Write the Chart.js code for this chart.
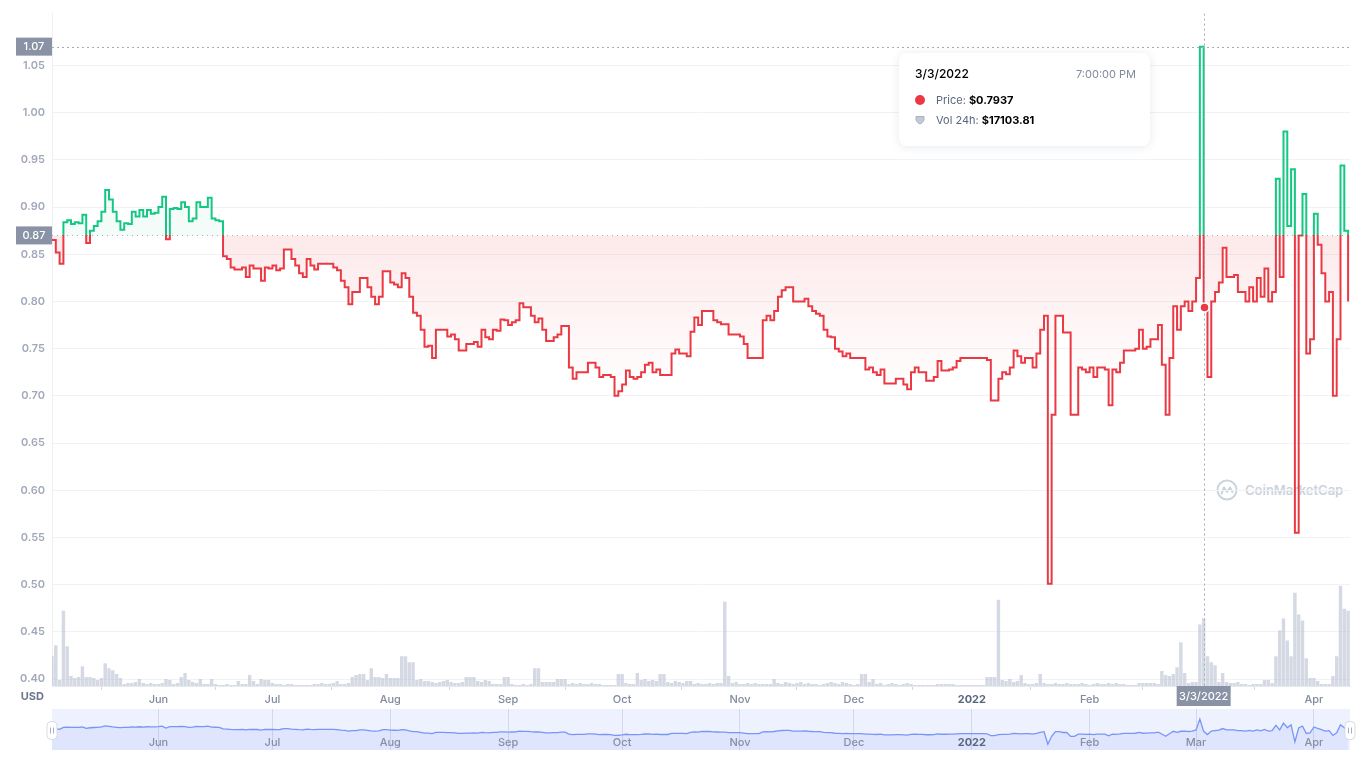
<!DOCTYPE html>
<html>
<head>
<meta charset="utf-8">
<script src="https://cdn.jsdelivr.net/npm/chart.js@4.4.1/dist/chart.umd.min.js"></script>
<style>
  body { margin: 0; background: #fff; font-family: Inter, "Noto Sans", sans-serif; }
  #wrap { position: relative; width: 1365px; height: 760px; overflow: hidden; }
  #priceChart { position: absolute; left: 0; top: 0; }
  #navChart { position: absolute; left: 0; top: 707px; }
  .watermark { position: absolute; left: 1216px; top: 479px; display: flex; align-items: center; color: #cdd3dd; font-size: 13px; font-weight: 600; }
  .watermark span { margin-left: 7px; }
  .tip { position: absolute; left: 899px; top: 53px; width: 251px; height: 93px; box-sizing: border-box;
         padding: 13px 14px 0 16px; background: #fff; border-radius: 8px;
         box-shadow: 0 1px 10px rgba(88, 102, 126, 0.14); font-size: 11px; }
  .tip-head { display: flex; justify-content: space-between; height: 16px; line-height: 16px; }
  .tip-date { font-size: 12px; font-weight: 500; color: #000; }
  .tip-time { color: #808a9d; }
  .tip-row { display: flex; align-items: center; height: 16px; line-height: 16px; }
  .tip-row.first { margin-top: 10px; }
  .tip-row.second { margin-top: 4px; }
  .dot { width: 10px; height: 10px; border-radius: 50%; background: #ea3943; margin-right: 11px; }
  .tip-row svg { margin-right: 11px; }
  .lbl { color: #58667e; margin-right: 3px; }
  .tip b { color: #000; font-weight: 700; }
</style>
</head>
<body>
<div id="wrap">
  <div class="watermark">
    <svg width="22" height="22" viewBox="0 0 22 22">
      <circle cx="11" cy="11" r="9.5" fill="none" stroke="#cdd3dd" stroke-width="2"/>
      <path d="M5.5 14.5 L8 8.5 L11 13 L14 8.5 L16.5 13" fill="none" stroke="#cdd3dd" stroke-width="2" stroke-linejoin="round" stroke-linecap="round"/>
    </svg>
    <span>CoinMarketCap</span>
  </div>
  <canvas id="priceChart" width="1365" height="706"></canvas>
  <canvas id="navChart" width="1365" height="45"></canvas>
  <div class="tip">
    <div class="tip-head"><span class="tip-date" id="tipDate"></span><span class="tip-time" id="tipTime"></span></div>
    <div class="tip-row first"><span class="dot"></span><span class="lbl">Price:</span><b id="tipPrice"></b></div>
    <div class="tip-row second">
      <svg width="10" height="10" viewBox="0 0 10 10"><path d="M1 1.5 H9 V4.5 C9 7 5 9 5 9 C5 9 1 7 1 4.5 Z" fill="#c3cad6" stroke="#a6b0c3" stroke-width="1"/></svg>
      <span class="lbl">Vol 24h:</span><b id="tipVol"></b>
    </div>
  </div>
</div>
<script>
// day 0 on the x axis is 2021-05-04, one value per day
const monthLabels = ['Jun', 'Jul', 'Aug', 'Sep', 'Oct', 'Nov', 'Dec', '2022', 'Feb', 'Mar', 'Apr'];
const monthStartDays = [28, 58, 89, 120, 150, 181, 211, 242, 273, 301, 332];
const priceTicks = [0.40, 0.45, 0.50, 0.55, 0.60, 0.65, 0.70, 0.75, 0.80, 0.85, 0.90, 0.95, 1.00, 1.05];

const baselinePrice = 0.87;
const crosshairPrice = 1.07;
const hoverDay = 303;
const hoverDate = '3/3/2022';
const hoverTime = '7:00:00 PM';
const hoverPrice = 0.7937;
const hoverVolume = 17103.81;

const prices = [
  0.865,0.852,0.840,0.884,0.886,0.882,0.884,0.883,0.892,0.862,
  0.875,0.880,0.885,0.895,0.918,0.908,0.895,0.885,0.876,0.883,
  0.882,0.895,0.890,0.897,0.890,0.897,0.893,0.894,0.900,0.911,
  0.866,0.898,0.899,0.898,0.905,0.900,0.885,0.888,0.905,0.900,
  0.900,0.910,0.888,0.886,0.885,0.848,0.845,0.836,0.834,0.834,
  0.836,0.826,0.838,0.835,0.835,0.822,0.836,0.835,0.838,0.833,
  0.835,0.855,0.855,0.845,0.838,0.830,0.826,0.845,0.838,0.834,
  0.840,0.840,0.840,0.840,0.836,0.833,0.822,0.815,0.797,0.810,
  0.810,0.825,0.825,0.815,0.805,0.797,0.805,0.832,0.832,0.820,
  0.818,0.815,0.830,0.825,0.805,0.788,0.785,0.770,0.752,0.753,
  0.740,0.770,0.770,0.770,0.763,0.765,0.760,0.748,0.748,0.755,
  0.755,0.757,0.752,0.770,0.762,0.760,0.770,0.769,0.781,0.780,
  0.775,0.778,0.780,0.798,0.794,0.794,0.785,0.778,0.782,0.770,
  0.758,0.758,0.762,0.765,0.774,0.774,0.730,0.718,0.725,0.725,
  0.725,0.735,0.735,0.730,0.720,0.722,0.722,0.720,0.700,0.705,
  0.712,0.727,0.720,0.718,0.720,0.725,0.733,0.735,0.725,0.728,
  0.722,0.722,0.722,0.745,0.749,0.745,0.745,0.742,0.768,0.783,
  0.775,0.790,0.790,0.790,0.780,0.778,0.776,0.776,0.765,0.765,
  0.765,0.763,0.755,0.740,0.740,0.740,0.740,0.780,0.785,0.780,
  0.790,0.805,0.812,0.815,0.815,0.800,0.800,0.800,0.803,0.795,
  0.790,0.787,0.785,0.770,0.763,0.762,0.750,0.747,0.742,0.745,
  0.740,0.740,0.740,0.740,0.728,0.730,0.725,0.722,0.728,0.713,
  0.713,0.713,0.718,0.718,0.712,0.707,0.725,0.730,0.725,0.725,
  0.716,0.716,0.720,0.737,0.727,0.727,0.728,0.730,0.737,0.740,
  0.740,0.740,0.740,0.740,0.740,0.740,0.738,0.695,0.695,0.718,
  0.725,0.723,0.730,0.748,0.742,0.735,0.740,0.740,0.730,0.745,
  0.770,0.785,0.501,0.680,0.785,0.785,0.767,0.767,0.680,0.680,
  0.730,0.728,0.725,0.730,0.720,0.730,0.730,0.728,0.690,0.728,
  0.725,0.735,0.748,0.748,0.748,0.750,0.770,0.750,0.752,0.760,
  0.760,0.775,0.733,0.680,0.740,0.795,0.770,0.795,0.800,0.790,
  0.800,0.825,1.070,0.7937,0.720,0.800,0.810,0.820,0.857,0.826,
  0.826,0.828,0.810,0.810,0.800,0.815,0.800,0.825,0.805,0.835,
  0.800,0.810,0.930,0.826,0.980,0.880,0.940,0.555,0.870,0.914,
  0.745,0.760,0.893,0.860,0.830,0.800,0.810,0.700,0.760,0.944,0.875,0.800
];

// 24h volume, thousands of USD
const volumesK = [
  7.5,10.25,1.5,19,10,2.5,2,2.25,5,2.25,
  2.25,2,1.5,2,5.75,4.5,4,3,2,0.5,
  0.75,0.75,1,1.75,0.75,0.5,0.75,0.5,0.5,0.75,
  1.75,1.5,0.5,0.75,2.25,3.25,1.5,1,0.75,1.75,
  0.5,0.5,1.75,0.5,0.25,0.25,0.5,0.25,0.25,1.25,
  0.5,0.5,2.75,1.25,0.5,1.75,1.5,1.5,0.75,0.5,
  0.5,0.25,0.5,0.5,0.25,0.25,0.25,0.25,0.25,0.5,
  0.5,0.75,0.5,0.5,0.75,1.25,0.5,0.5,0.75,2.25,
  2.75,3,3,1.5,4.5,2.25,2.25,2,3,2,
  2,2,7.5,7.5,6,6,1.5,1.75,1.25,1.25,
  1,0.75,1,1.25,1.5,1,0.75,0.75,1,2.25,
  2.25,2.25,1.25,1,1.5,1.25,0.5,0.5,0.5,2.25,
  2.25,0.5,0.25,0.25,0.5,0.25,0.5,4.5,4.5,1,
  1,1,1,1.75,1.75,1.75,0.5,0.75,0.5,0.75,
  0.5,0.5,0.75,0.5,0.5,0.25,0.25,0.25,0.25,3,
  3,0.75,0.5,0.5,3.25,1.5,1.75,1.25,1.5,1.25,
  3,3,1,0.75,1.25,1,0.75,1.25,1.25,0.5,
  0.75,0.5,0.5,0.75,0.5,0.75,0.75,21.25,2.5,0.75,
  1,0.5,0.5,0.75,0.5,0.75,0.5,0.5,0.5,0.5,
  1.75,0.75,0.5,1,0.75,0.5,0.75,1,0.5,0.75,
  0.5,0.5,0.25,0.5,0.75,1,0.75,0.5,1,0.75,
  0.5,0.25,0.5,3,3,1,1.75,0.5,0.75,0.25,
  0.5,0.75,0.5,0.25,0.5,0.75,0.5,0.25,0.25,0.25,
  0.25,0.25,0.25,0.5,0.5,0.5,0.5,0.5,0.25,0.25,
  0.25,0.25,0.25,0.25,0.25,0.25,2.25,2.25,2.25,21.75,
  1.5,1.25,1.75,1,1.25,2.75,0.75,0.5,0.5,0.75,
  3,0.75,0.5,0.5,0.75,0.5,0.5,0.75,0.5,0.5,
  0.5,0.75,0.5,0.25,0.5,0.75,0.5,0.5,0.75,0.5,
  0.75,0.5,0.5,0.25,0.25,0.25,0.75,0.75,0.75,0.75,
  0.75,0.5,3.75,2.75,2.5,3,4.75,11,3.25,0.75,
  1,1,15.5,17.10381,7.5,6,5.25,1,3.25,1,
  0.75,0.75,1,0.5,0.5,0.25,0.5,0.5,0.5,1.5,
  1.5,0.75,7.5,14,17,11.5,7.5,23.5,18,16.5,
  7,2,2,1.25,0.5,0.5,0.5,2.5,7.5,25.25,19.5,19
];

const GREEN = '#16c784';
const RED = '#ea3943';
const TAG = '#8a92a6';

Chart.defaults.font.family = 'Inter';

document.getElementById('tipDate').textContent = hoverDate;
document.getElementById('tipTime').textContent = hoverTime;
document.getElementById('tipPrice').textContent = '$' + hoverPrice;
document.getElementById('tipVol').textContent = '$' + hoverVolume.toFixed(2);

// green above the baseline, red below it
function lineColor(context) {
    const chart = context.chart;
    const area = chart.chartArea;
    if (!area || !chart.scales.y) return RED;
    const yb = chart.scales.y.getPixelForValue(baselinePrice);
    const t = Math.min(1, Math.max(0, (yb - area.top) / (area.bottom - area.top)));
    const g = chart.ctx.createLinearGradient(0, area.top, 0, area.bottom);
    g.addColorStop(0, GREEN);
    g.addColorStop(t, GREEN);
    g.addColorStop(t, RED);
    g.addColorStop(1, RED);
    return g;
}

function belowFill(context) {
    const chart = context.chart;
    if (!chart.chartArea || !chart.scales.y) return 'rgba(234,57,67,0.06)';
    const y = chart.scales.y;
    const g = chart.ctx.createLinearGradient(0, y.getPixelForValue(baselinePrice), 0, y.getPixelForValue(0.70));
    g.addColorStop(0, 'rgba(234,57,67,0.11)');
    g.addColorStop(1, 'rgba(234,57,67,0)');
    return g;
}

function tag(ctx, text, cx, cy, w, h) {
    ctx.fillStyle = TAG;
    ctx.fillRect(cx - w / 2, cy - h / 2, w, h);
    ctx.fillStyle = '#fff';
    ctx.font = '500 11px Inter';
    ctx.textAlign = 'center';
    ctx.textBaseline = 'middle';
    ctx.fillText(text, cx, cy + 0.5);
}

const overlay = {
    id: 'overlay',
    beforeDatasetsDraw(chart) {
        const { ctx, chartArea: a, scales: { y } } = chart;
        const yb = Math.round(y.getPixelForValue(baselinePrice)) + 0.5;
        ctx.save();
        ctx.strokeStyle = '#a9b1c2';
        ctx.lineWidth = 1;
        ctx.setLineDash([1, 4]);
        ctx.beginPath();
        ctx.moveTo(a.left, yb);
        ctx.lineTo(a.right, yb);
        ctx.stroke();
        ctx.restore();
    },
    afterDatasetsDraw(chart) {
        const { ctx, chartArea: a, scales: { x, y } } = chart;
        const hx = Math.round(x.getPixelForValue(hoverDay)) + 0.5;
        const hy = Math.round(y.getPixelForValue(crosshairPrice)) + 0.5;
        ctx.save();
        ctx.strokeStyle = '#a3abbd';
        ctx.lineWidth = 1;
        ctx.setLineDash([2, 3]);
        ctx.beginPath();
        ctx.moveTo(a.left, hy);
        ctx.lineTo(a.right, hy);
        ctx.moveTo(hx, a.top);
        ctx.lineTo(hx, a.bottom);
        ctx.stroke();
        ctx.setLineDash([]);
        ctx.beginPath();
        ctx.arc(hx, y.getPixelForValue(hoverPrice), 4.5, 0, Math.PI * 2);
        ctx.fillStyle = RED;
        ctx.fill();
        ctx.lineWidth = 1.5;
        ctx.strokeStyle = '#fff';
        ctx.stroke();
        ctx.restore();
    },
    afterDraw(chart) {
        const { ctx, chartArea: a, scales: { x, y } } = chart;
        ctx.save();
        tag(ctx, crosshairPrice.toFixed(2), 34, y.getPixelForValue(crosshairPrice), 36, 18);
        tag(ctx, baselinePrice.toFixed(2), 34, y.getPixelForValue(baselinePrice), 36, 18);
        tag(ctx, hoverDate, x.getPixelForValue(hoverDay), a.bottom + 10, 54, 20);
        ctx.fillStyle = '#6c768c';
        ctx.font = '700 11px Inter';
        ctx.textAlign = 'right';
        ctx.textBaseline = 'middle';
        ctx.fillText('USD', 44, a.bottom + 11);
        ctx.restore();
    }
};

new Chart(document.getElementById('priceChart'), {
    type: 'line',
    data: {
        datasets: [{
            type: 'line',
            data: prices.map((p, i) => ({ x: i, y: p })),
            borderColor: lineColor,
            borderWidth: 2,
            stepped: true,
            pointRadius: 0,
            fill: { target: { value: baselinePrice }, above: 'rgba(22,199,132,0.05)' },
            backgroundColor: belowFill,
            yAxisID: 'y',
            order: 0
        }, {
            type: 'bar',
            data: volumesK.map((v, i) => ({ x: i, y: v })),
            backgroundColor: 'rgba(183,192,210,0.6)',
            barPercentage: 0.9,
            categoryPercentage: 1,
            yAxisID: 'yVol',
            order: 1
        }]
    },
    options: {
        responsive: false,
        animation: false,
        events: [],
        layout: { padding: { top: 12, right: 15 } },
        plugins: { legend: { display: false }, tooltip: { enabled: false } },
        scales: {
            x: {
                type: 'linear',
                min: 0,
                max: 341.5,
                offset: false,
                afterBuildTicks: axis => { axis.ticks = monthStartDays.map(v => ({ value: v })); },
                afterFit: axis => { axis.height = 20; },
                ticks: {
                    autoSkip: false,
                    maxRotation: 0,
                    padding: 3,
                    callback: (v, i) => monthLabels[i],
                    color: c => monthLabels[c.index] === '2022' ? '#58667e' : '#808a9d',
                    font: c => ({ size: 11, weight: monthLabels[c.index] === '2022' ? '700' : '500' })
                },
                grid: { drawOnChartArea: false, tickLength: 4, color: '#d3d8e1' },
                border: { color: '#e6e9ee' }
            },
            y: {
                min: 0.3926,
                max: 1.105,
                afterBuildTicks: axis => { axis.ticks = priceTicks.map(v => ({ value: v })); },
                afterFit: axis => { axis.width = 52; },
                ticks: {
                    padding: 7,
                    callback: v => v.toFixed(2),
                    color: '#a1a8ba',
                    font: { size: 11, weight: '600' }
                },
                grid: { color: '#f0f2f5', drawTicks: false },
                border: { color: '#eceff3' }
            },
            yVol: { display: false, min: 0, max: 169.5 }
        }
    },
    plugins: [overlay]
});

// navigator: background, month names inside the strip and the two handles
const navDecor = {
    id: 'navDecor',
    beforeDraw(chart) {
        const { ctx, chartArea: a } = chart;
        ctx.save();
        ctx.fillStyle = '#eef2fe';
        ctx.fillRect(a.left, a.top, a.right - a.left, a.bottom - a.top);
        ctx.restore();
    },
    afterDraw(chart) {
        const { ctx, chartArea: a, scales: { x } } = chart;
        ctx.save();
        ctx.textAlign = 'center';
        ctx.textBaseline = 'middle';
        monthStartDays.forEach((d, i) => {
            const bold = monthLabels[i] === '2022';
            ctx.font = (bold ? '700' : '500') + ' 11px Inter';
            ctx.fillStyle = bold ? '#58667e' : '#858ea4';
            ctx.fillText(monthLabels[i], x.getPixelForValue(d), a.bottom - 7);
        });
        const cy = (a.top + a.bottom) / 2 + 1;
        [a.left, a.right].forEach(hx => {
            ctx.beginPath();
            ctx.roundRect(hx - 5, cy - 9, 10, 18, 4);
            ctx.fillStyle = '#fff';
            ctx.fill();
            ctx.strokeStyle = '#d6dbe6';
            ctx.lineWidth = 1;
            ctx.stroke();
            ctx.strokeStyle = '#a6aec0';
            ctx.beginPath();
            ctx.moveTo(hx - 1.5, cy - 3); ctx.lineTo(hx - 1.5, cy + 3);
            ctx.moveTo(hx + 1.5, cy - 3); ctx.lineTo(hx + 1.5, cy + 3);
            ctx.stroke();
        });
        ctx.restore();
    }
};

new Chart(document.getElementById('navChart'), {
    type: 'line',
    data: {
        datasets: [{
            data: prices.map((p, i) => ({ x: i, y: p })),
            borderColor: '#7896f6',
            borderWidth: 1.3,
            pointRadius: 0,
            fill: 'start',
            backgroundColor: 'rgba(120,150,246,0.13)'
        }]
    },
    options: {
        responsive: false,
        animation: false,
        events: [],
        layout: { padding: { left: 52, right: 15, top: 2, bottom: 2 } },
        plugins: { legend: { display: false }, tooltip: { enabled: false } },
        scales: {
            x: {
                type: 'linear',
                min: 0,
                max: 341.5,
                afterBuildTicks: axis => { axis.ticks = monthStartDays.map(v => ({ value: v })); },
                afterFit: axis => { axis.height = 0; },
                ticks: { display: false },
                grid: { color: 'rgba(196,205,232,0.7)', drawTicks: false },
                border: { display: false }
            },
            y: { display: false, min: 0.37, max: 1.30 }
        }
    },
    plugins: [navDecor]
});
</script>
</body>
</html>
